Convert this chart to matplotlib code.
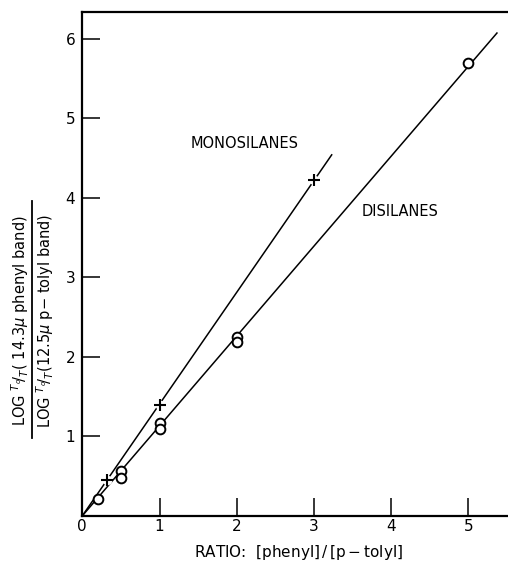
import numpy as np
import matplotlib.pyplot as plt
from matplotlib.lines import Line2D

plt.rcParams['font.family'] = 'DejaVu Sans'
plt.rcParams['mathtext.fontset'] = 'dejavusans'

# monosilanes (crosses)
mono_ratio = [0.32, 1.0, 3.0]
mono_absorb = [0.45, 1.40, 4.22]
mono_fit_end = 3.23

# disilanes (circles)
di_ratio = [0.2, 0.5, 0.5, 1.0, 1.0, 2.0, 2.0, 5.0]
di_absorb = [0.21, 0.56, 0.47, 1.17, 1.09, 2.25, 2.19, 5.70]
di_fit_end = 5.37

fig = plt.figure(figsize=(5.08, 5.65), dpi=100)
ax = fig.add_axes([0.162, 0.087, 0.836, 0.892])

# least squares lines through the origin
for xs, ys, xend in [(mono_ratio, mono_absorb, mono_fit_end),
                     (di_ratio, di_absorb, di_fit_end)]:
    xs = np.array(xs); ys = np.array(ys)
    slope = (xs * ys).sum() / (xs * xs).sum()
    ax.plot([0, xend], [0, slope * xend], color='black', lw=1.1, zorder=1)

ax.plot(mono_ratio, mono_absorb, 'o', ms=7, mfc='white', mec='none', zorder=2)
ax.plot(mono_ratio, mono_absorb, '+', ms=8, mew=1.5, color='black', zorder=3)
ax.plot(di_ratio, di_absorb, 'o', ms=7, mfc='white', mec='black', mew=1.4, zorder=3)

ax.text(2.1, 4.69, 'MONOSILANES', ha='center', va='center', fontsize=10.5)
ax.text(4.12, 3.83, 'DISILANES', ha='center', va='center', fontsize=10.5)

ax.set_xlim(0, 5.5)
ax.set_ylim(0, 6.34)
ax.set_xticks([0, 1, 2, 3, 4, 5])
ax.set_xticklabels(['0', '1', '2', '3', '4', '5'])
ax.set_yticks([1, 2, 3, 4, 5, 6])
ax.set_yticklabels(['1', '2', '3', '4', '5', '6'])
ax.tick_params(axis='both', direction='in', length=13, width=1.1, labelsize=11)
ax.tick_params(axis='x', pad=2)
ax.tick_params(axis='y', pad=5)
ax.spines['right'].set_visible(False)
for s in ['left', 'bottom', 'top']:
    ax.spines[s].set_linewidth(1.6)

fig.text(0.587, 0.022,
         r'RATIO:  $\left[\mathrm{phenyl}\right]\,/\,\left[\mathrm{p-tolyl}\right]$',
         ha='center', va='center', fontsize=11)

# y label drawn as a fraction
fig.text(0.040, 0.432, r'LOG $^{T_o}\!/_{T}$( 14.3$\mu$ phenyl band)',
         rotation=90, ha='center', va='center', fontsize=10.5)
fig.text(0.089, 0.432, r'LOG $^{T_o}\!/_{T}$(12.5$\mu$ p$-$ tolyl band)',
         rotation=90, ha='center', va='center', fontsize=10.5)
fig.add_artist(Line2D([0.063, 0.063], [0.225, 0.645], color='black', lw=1.3))

fig.savefig('out.png', dpi=100)
